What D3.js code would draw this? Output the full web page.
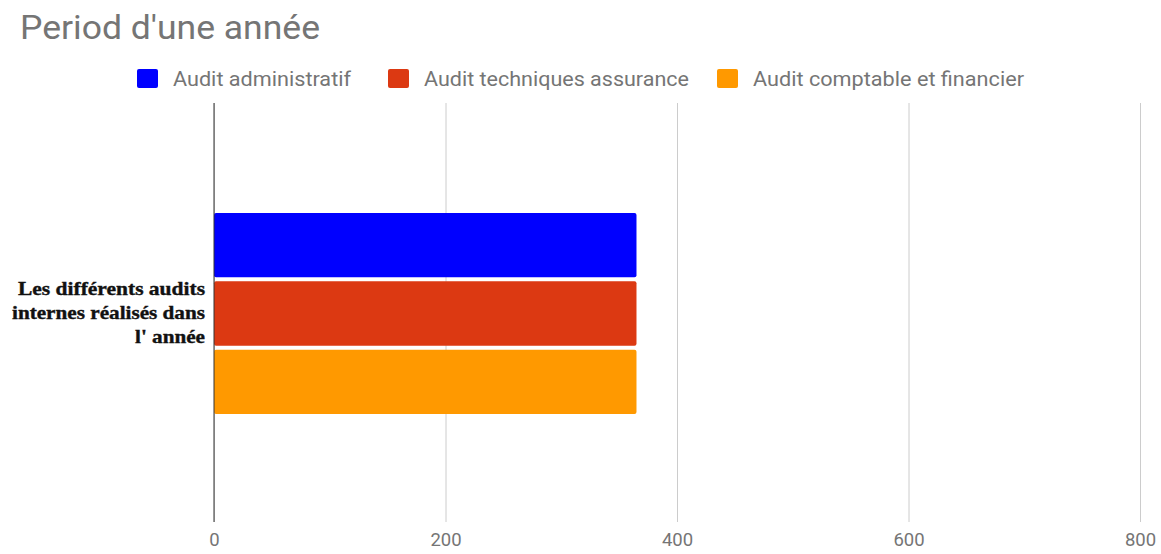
<!DOCTYPE html>
<html><head><meta charset="utf-8">
<script src="https://cdn.jsdelivr.net/npm/d3@7"></script>
<style>body{margin:0;background:#fff;}svg{display:block;}</style>
</head><body>
<svg id="c" width="1161" height="554"></svg>
<script>
const title = "Period d'une année";
const categories = ["Les différents audits internes réalisés dans l' année"];
const categoryLines = [["Les différents audits", "internes réalisés dans", "l' année"]];
const seriesNames = ["Audit administratif", "Audit techniques assurance", "Audit comptable et financier"];
const seriesColors = ["#0000ff", "#dc3912", "#ff9900"];
const seriesValues = [[365], [365], [365]];
const xTicks = [0, 200, 400, 600, 800];

const svg = d3.select("#c");
const x = d3.scaleLinear().domain([0, 800]).range([214, 1140]);
const y0 = d3.scaleBand().domain(categories).range([103, 522]);
const y1 = d3.scaleBand().domain(seriesNames).range([y0(categories[0]) + 110, y0(categories[0]) + 311]).paddingInner(0.06);

// title
svg.append("text").attr("x", 20).attr("y", 39).attr("font-family", "Roboto").attr("font-size", 33)
  .attr("fill", "#757575").attr("textLength", 300).attr("lengthAdjust", "spacingAndGlyphs").text(title);

// legend
const legendX = [137, 388, 717];
const legendW = [178, 265, 271];
seriesNames.forEach((s, i) => {
  svg.append("rect").attr("x", legendX[i]).attr("y", 69).attr("width", 21).attr("height", 19).attr("rx", 2).attr("fill", seriesColors[i]);
  svg.append("text").attr("x", legendX[i] + 36).attr("y", 86).attr("font-family", "Roboto").attr("font-size", 19.5)
    .attr("fill", "#757575").attr("textLength", legendW[i]).attr("lengthAdjust", "spacingAndGlyphs").text(s);
});

// grid
const axis = d3.axisBottom(x).tickValues(xTicks).tickSize(-(522 - 103)).tickPadding(11).tickFormat(d3.format("d"));
const g = svg.append("g").attr("transform", "translate(0,522)").call(axis);
g.select(".domain").remove();
g.selectAll(".tick line").attr("stroke", "#cccccc").attr("stroke-width", 1);
g.selectAll(".tick text").attr("font-family", "Roboto").attr("font-size", 18.5).attr("fill", "#757575");

// bars
seriesNames.forEach((s, i) => {
  categories.forEach((c, j) => {
    svg.append("rect").attr("x", x(0)).attr("y", y1(s)).attr("width", x(seriesValues[i][j]) - x(0)).attr("height", y1.bandwidth()).attr("rx", 2).attr("fill", seriesColors[i]);
  });
});

// zero line
svg.append("line").attr("x1", x(0)).attr("x2", x(0)).attr("y1", 103).attr("y2", 522).attr("stroke", "#333").attr("stroke-width", 1);

// category label
const lineW = [187, 193, 70];
categories.forEach((c, j) => {
  const mid = y0(c) + y0.bandwidth() / 2;
  categoryLines[j].forEach((ln, k) => {
    svg.append("text").attr("text-anchor", "end").attr("font-family", "Liberation Serif").attr("font-weight", "bold")
      .attr("font-size", 19.5).attr("fill", "#111").attr("stroke", "#111").attr("stroke-width", 0.4)
      .attr("x", 205).attr("y", mid - 18 + k * 24)
      .attr("textLength", lineW[k]).attr("lengthAdjust", "spacingAndGlyphs").text(ln);
  });
});
</script>
</body></html>
